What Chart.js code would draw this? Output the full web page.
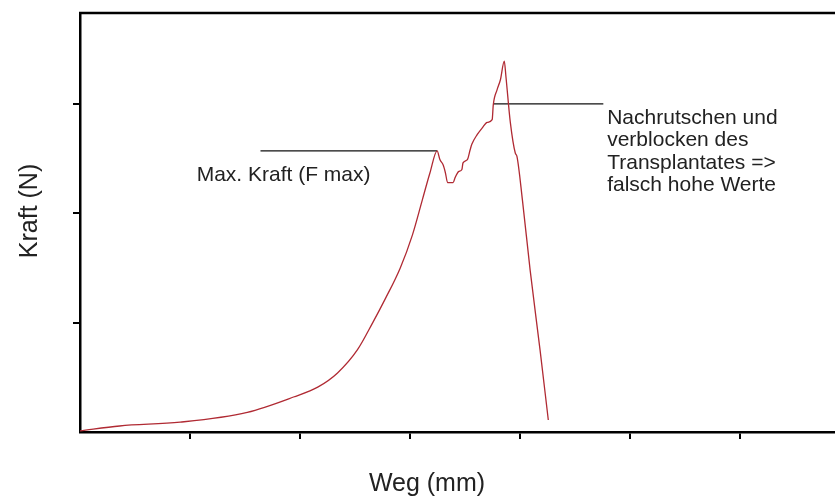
<!DOCTYPE html>
<html>
<head>
<meta charset="utf-8">
<script src="https://cdn.jsdelivr.net/npm/chart.js@4"></script>
<style>
  html, body { margin: 0; padding: 0; background: #fff; }
  #wrap { width: 835px; height: 502px; }
</style>
</head>
<body>
<div id="wrap"><canvas id="chart" width="835" height="502"></canvas></div>
<script>
// Weg (mm) / Kraft (N)
const weg = [0, 0.36, 0.91, 1.52, 1.94, 2.16, 2.34, 2.52, 2.66, 2.77, 2.91, 3.02, 3.11, 3.18, 3.245,
  3.27, 3.30, 3.32, 3.34, 3.39, 3.41, 3.44, 3.47, 3.48, 3.52, 3.545, 3.56, 3.61, 3.655, 3.70, 3.745,
  3.755, 3.79, 3.82, 3.855, 3.87, 3.91, 3.955, 3.97, 4.02, 4.09, 4.18, 4.255];
const kraft = [0.01, 0.055, 0.09, 0.18, 0.32, 0.41, 0.54, 0.75, 1.0, 1.21, 1.5, 1.8, 2.12, 2.37, 2.57,
  2.49, 2.44, 2.37, 2.28, 2.28, 2.33, 2.38, 2.40, 2.46, 2.49, 2.58, 2.63, 2.72, 2.78, 2.83, 2.855,
  2.99, 3.13, 3.22, 3.39, 3.25, 2.83, 2.55, 2.52, 2.12, 1.48, 0.75, 0.11];

// axis ranges / ticks (no labels on the original)
const xMax = 6.86;
const yMax = 3.83;
const xTicks = [1, 2, 3, 4, 5, 6];
const yTicks = [1, 2, 3];

// annotation pointer lines
const fmaxLineX = [1.64, 3.245];
const fmaxLineY = [2.57, 2.57];
const slipLineX = [3.755, 4.755];
const slipLineY = [3.0, 3.0];

const fmaxText = "Max. Kraft (F max)";
const fmaxAt = [1.06, 2.35];
const slipText = ["Nachrutschen und", "verblocken des", "Transplantates =>", "falsch hohe Werte"];
const slipAt = [4.79, 2.87];

function pts(xs, ys) {
  return xs.map((x, i) => ({ x: x, y: ys[i] }));
}

const textPlugin = {
  id: "texts",
  afterDraw(chart) {
    const ctx = chart.ctx;
    const xs = chart.scales.x;
    const ys = chart.scales.y;
    const area = chart.chartArea;
    ctx.save();

    // top frame line
    ctx.strokeStyle = "#000";
    ctx.lineWidth = 2.5;
    ctx.beginPath();
    ctx.moveTo(area.left - 1, area.top);
    ctx.lineTo(area.right, area.top);
    ctx.stroke();

    ctx.fillStyle = "#222";
    ctx.font = '21px "Liberation Sans", Arial, sans-serif';
    ctx.textBaseline = "middle";
    ctx.textAlign = "left";
    ctx.fillText(fmaxText, xs.getPixelForValue(fmaxAt[0]), ys.getPixelForValue(fmaxAt[1]));
    slipText.forEach((line, i) => {
      ctx.fillText(line, xs.getPixelForValue(slipAt[0]), ys.getPixelForValue(slipAt[1]) + i * 22.5);
    });

    // axis titles
    ctx.font = '25px "Liberation Sans", Arial, sans-serif';
    ctx.textAlign = "center";
    ctx.fillText("Weg (mm)", 427, 484);
    ctx.translate(30, 211);
    ctx.rotate(-Math.PI / 2);
    ctx.fillText("Kraft (N)", 0, 0);
    ctx.restore();
  }
};

new Chart(document.getElementById("chart").getContext("2d"), {
  type: "scatter",
  data: {
    datasets: [
      {
        data: pts(weg, kraft),
        showLine: true,
        borderColor: "#b02a33",
        borderWidth: 1.3,
        pointRadius: 0,
        cubicInterpolationMode: "monotone"
      },
      {
        data: pts(fmaxLineX, fmaxLineY),
        showLine: true,
        borderColor: "#111",
        borderWidth: 1.3,
        pointRadius: 0
      },
      {
        data: pts(slipLineX, slipLineY),
        showLine: true,
        borderColor: "#111",
        borderWidth: 1.3,
        pointRadius: 0
      }
    ]
  },
  options: {
    responsive: false,
    animation: false,
    layout: { padding: { top: 13, right: 0, left: 0, bottom: 0 } },
    plugins: { legend: { display: false }, tooltip: { enabled: false } },
    scales: {
      x: {
        type: "linear",
        min: 0,
        max: xMax,
        afterBuildTicks(scale) { scale.ticks = xTicks.map(v => ({ value: v })); },
        ticks: { display: false },
        grid: { drawOnChartArea: false, tickLength: 7, color: "#000", lineWidth: 2 },
        border: { color: "#000", width: 2.5 },
        afterFit(scale) { scale.height = 70; }
      },
      y: {
        type: "linear",
        min: 0,
        max: yMax,
        afterBuildTicks(scale) { scale.ticks = yTicks.map(v => ({ value: v })); },
        ticks: { display: false },
        grid: { drawOnChartArea: false, tickLength: 7, color: "#000", lineWidth: 2 },
        border: { color: "#000", width: 2.5 },
        afterFit(scale) { scale.width = 80; }
      }
    }
  },
  plugins: [textPlugin]
});
</script>
</body>
</html>
